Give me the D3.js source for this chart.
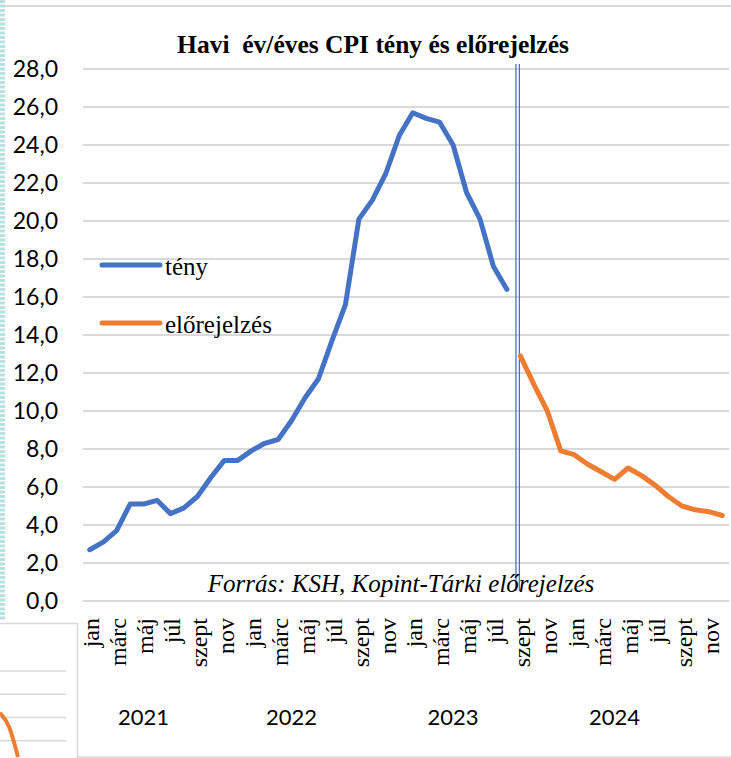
<!DOCTYPE html>
<html>
<head>
<meta charset="utf-8">
<script src="https://cdn.jsdelivr.net/npm/d3@7"></script>
<style>
  body { margin: 0; background: #fff; }
  svg { display: block; }
</style>
</head>
<body>
<svg width="731" height="758"></svg>
<script>
// havi CPI adatok, 2021 jan - 2024 dec
const years = ['2021', '2022', '2023', '2024']
const monthNames = ['jan', 'febr', 'márc', 'ápr', 'máj', 'jún', 'júl', 'aug', 'szept', 'okt', 'nov', 'dec']
const shownMonths = ['jan', 'márc', 'máj', 'júl', 'szept', 'nov']

// tény (KSH), 2021 jan - 2023 aug
const tenyValues = [
    2.7, 3.1, 3.7, 5.1, 5.1, 5.3, 4.6, 4.9, 5.5, 6.5, 7.4, 7.4,
    7.9, 8.3, 8.5, 9.5, 10.7, 11.7, 13.7, 15.6, 20.1, 21.1, 22.5, 24.5,
    25.7, 25.4, 25.2, 24.0, 21.5, 20.1, 17.6, 16.4
]
// előrejelzés, 2023 szept - 2024 dec
const elorejelzesValues = [
    12.9, 11.4, 10.0, 7.9, 7.7, 7.2, 6.8, 6.4, 7.0, 6.6, 6.1, 5.5, 5.0, 4.8, 4.7, 4.5
]
const yTicks = [0, 2, 4, 6, 8, 10, 12, 14, 16, 18, 20, 22, 24, 26, 28]

// a bal alsó sarokban látszó másik diagram darabja
const insetValues = [2.2, 1.6, 0.3]
const insetTicks = [1, 2, 3, 4]

const svg = d3.select('svg')
const width = +svg.attr('width')
const height = +svg.attr('height')

const margin = {top: 69, right: 2, bottom: 157, left: 83}
const innerWidth = width - margin.left - margin.right
const innerHeight = height - margin.top - margin.bottom

// minden hónap egy kategória
const months = []
years.forEach(y => monthNames.forEach(m => months.push({year: y, month: m, key: y + '-' + m})))

const tenyData = tenyValues.map((v, i) => ({key: months[i].key, value: v}))
const elorejelzesData = elorejelzesValues.map((v, i) => ({key: months[i + tenyValues.length].key, value: v}))

const xscale = d3.scaleBand()
    .domain(months.map(d => d.key))
    .range([0, innerWidth])

const yscale = d3.scaleLinear()
    .domain([0, 28])
    .range([innerHeight, 0])

const xCenter = k => xscale(k) + xscale.bandwidth() / 2

// keret dolgok
svg.append('line')
    .attr('x1', 2.5).attr('x2', 2.5)
    .attr('y1', 0).attr('y2', 620)
    .attr('stroke', '#b7e0e3')
    .attr('stroke-width', 5)
    .attr('stroke-dasharray', '3,1.5')

svg.append('line')
    .attr('x1', 5).attr('x2', width)
    .attr('y1', 6).attr('y2', 6)
    .attr('stroke', '#d9d9d9')
    .attr('stroke-width', 2)

svg.append('line')
    .attr('x1', 77).attr('x2', width)
    .attr('y1', 757).attr('y2', 757)
    .attr('stroke', '#d9d9d9')
    .attr('stroke-width', 1.5)

// másik diagram darabja bal lent
const inset = svg.append('g')
inset.append('path')
    .attr('d', 'M0,623.5 H77.5 V758')
    .attr('fill', 'none')
    .attr('stroke', '#d9d9d9')
    .attr('stroke-width', 1.5)
const insetY = d3.scaleLinear().domain([0, 4]).range([764, 671])
inset.selectAll('line.grid').data(insetTicks)
    .enter()
    .append('line')
        .attr('class', 'grid')
        .attr('x1', 0).attr('x2', 66)
        .attr('y1', d => insetY(d)).attr('y2', d => insetY(d))
        .attr('stroke', '#d9d9d9')
        .attr('stroke-width', 1.5)
const insetX = d3.scaleLinear().domain([0, 2]).range([0, 18])
inset.append('path')
    .datum(insetValues)
    .attr('fill', 'none')
    .attr('stroke', '#ed7d31')
    .attr('stroke-width', 4)
    .attr('d', d3.line().x((d, i) => insetX(i)).y(d => insetY(d)).curve(d3.curveMonotoneX))

const g = svg.append('g')
    .attr('transform', `translate(${margin.left}, ${margin.top})`)

// rácsvonalak
g.append('g').selectAll('line').data(yTicks)
    .enter()
    .append('line')
        .attr('x1', 0).attr('x2', innerWidth)
        .attr('y1', d => yscale(d)).attr('y2', d => yscale(d))
        .attr('stroke', '#d9d9d9')
        .attr('stroke-width', 2)

// y tengely feliratok
const yAxis = d3.axisLeft(yscale)
    .tickValues(yTicks)
    .tickFormat(d => d3.format('.1f')(d).replace('.', ','))
    .tickSize(0)
    .tickPadding(25)
const yAxisG = g.append('g').call(yAxis)
yAxisG.select('.domain').remove()
yAxisG.selectAll('text')
    .attr('font-family', 'Lato, Carlito, sans-serif')
    .attr('font-size', 23)
    .attr('fill', '#000')

// x tengely: hónapok függőlegesen
const xAxis = d3.axisBottom(xscale)
    .tickValues(months.filter(d => shownMonths.includes(d.month)).map(d => d.key))
    .tickFormat(k => k.split('-')[1])
    .tickSize(0)
const xAxisG = g.append('g')
    .attr('transform', `translate(0, ${innerHeight})`)
    .call(xAxis)
xAxisG.select('.domain').remove()
xAxisG.selectAll('text')
    .attr('font-family', '"Liberation Serif", "Times New Roman", serif')
    .attr('font-size', 24)
    .attr('fill', '#000')
    .attr('text-anchor', 'end')
    .attr('dy', '0.32em')
    .attr('transform', 'translate(2, 17) rotate(-90)')
    .attr('y', 0)
    .attr('x', 0)

// évek
const yearAnchor = [4, 15, 27, 39]
g.append('g').selectAll('text').data(years)
    .enter()
    .append('text')
        .attr('x', (d, i) => xCenter(months[yearAnchor[i]].key))
        .attr('y', 725 - margin.top)
        .attr('text-anchor', 'middle')
        .attr('font-family', 'Lato, Carlito, sans-serif')
        .attr('font-size', 22)
        .attr('fill', '#000')
        .text(d => d)

// függőleges elválasztó (dupla vonal)
const sepX = xscale(months[tenyValues.length].key) + 4
;[-1.7, 1.7].forEach(o => {
    g.append('line')
        .attr('x1', sepX + o).attr('x2', sepX + o)
        .attr('y1', -5).attr('y2', 591 - margin.top)
        .attr('stroke', '#4472c4')
        .attr('stroke-width', 1.3)
})

// vonalak
const line = d3.line()
    .x(d => xCenter(d.key))
    .y(d => yscale(d.value))

g.append('path')
    .datum(tenyData)
    .attr('fill', 'none')
    .attr('stroke', '#4472c4')
    .attr('stroke-width', 5)
    .attr('stroke-linejoin', 'round')
    .attr('stroke-linecap', 'round')
    .attr('d', line)

g.append('path')
    .datum(elorejelzesData)
    .attr('fill', 'none')
    .attr('stroke', '#ed7d31')
    .attr('stroke-width', 5)
    .attr('stroke-linejoin', 'round')
    .attr('stroke-linecap', 'round')
    .attr('d', line)

// cím
svg.append('text')
    .attr('x', 373)
    .attr('y', 53)
    .attr('text-anchor', 'middle')
    .attr('font-family', '"Liberation Serif", "Times New Roman", serif')
    .attr('font-weight', 'bold')
    .attr('font-size', 25.5)
    .attr('xml:space', 'preserve')
    .style('white-space', 'pre')
    .text('Havi  év/éves CPI tény és előrejelzés')

// forrás
svg.append('text')
    .attr('x', 401)
    .attr('y', 592)
    .attr('text-anchor', 'middle')
    .attr('font-family', '"Liberation Serif", "Times New Roman", serif')
    .attr('font-style', 'italic')
    .attr('font-size', 25)
    .text('Forrás: KSH, Kopint-Tárki előrejelzés')

// jelmagyarázat
const legend = [
    {name: 'tény', color: '#4472c4', y: 265},
    {name: 'előrejelzés', color: '#ed7d31', y: 323}
]
const lg = svg.append('g').selectAll('g').data(legend).enter().append('g')
lg.append('line')
    .attr('x1', 102).attr('x2', 160)
    .attr('y1', d => d.y).attr('y2', d => d.y)
    .attr('stroke', d => d.color)
    .attr('stroke-width', 5)
    .attr('stroke-linecap', 'round')
lg.append('text')
    .attr('x', 165)
    .attr('y', d => d.y + 10)
    .attr('font-family', '"Liberation Serif", "Times New Roman", serif')
    .attr('font-size', 25)
    .attr('fill', '#000')
    .text(d => d.name)
</script>
</body>
</html>
